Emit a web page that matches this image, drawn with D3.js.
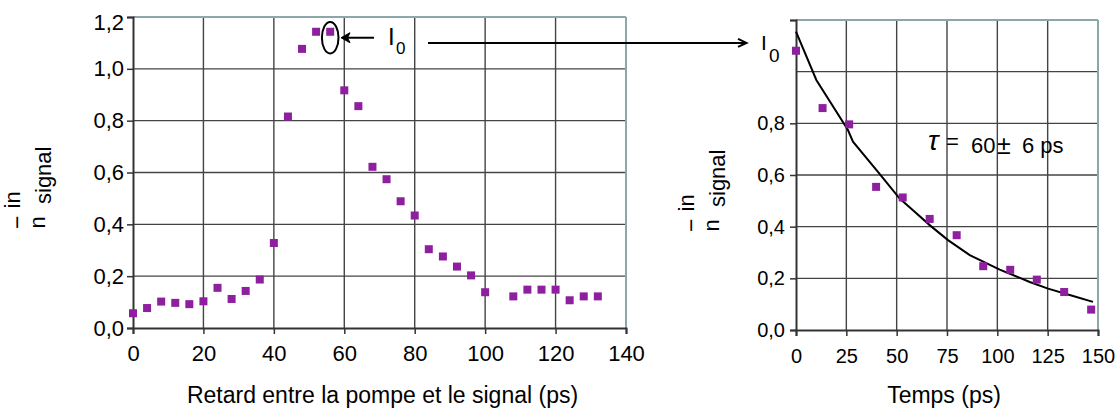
<!DOCTYPE html>
<html>
<head>
<meta charset="utf-8">
<script src="https://cdn.jsdelivr.net/npm/d3@7"></script>
<style>
  html, body { margin: 0; padding: 0; background: #fff; }
  svg { display: block; }
  text { font-family: "Liberation Sans", Arial, sans-serif; fill: #000; }
</style>
</head>
<body>
<svg id="chart" width="1115" height="409"></svg>
<script>
// Pump-probe scan: signal ratio versus pump/signal delay
const delayPs = [0, 4, 8, 12, 16, 20, 24, 28, 32, 36, 40, 44, 48, 52, 56, 60, 64,
  68, 72, 76, 80, 84, 88, 92, 96, 100, 108, 112, 116, 120, 124, 128, 132];
const scanRatio = [0.057, 0.077, 0.102, 0.097, 0.092, 0.103, 0.155, 0.112, 0.143,
  0.187, 0.328, 0.816, 1.077, 1.143, 1.143, 0.917, 0.856, 0.622, 0.574, 0.489,
  0.434, 0.304, 0.276, 0.237, 0.203, 0.138, 0.122, 0.148, 0.148, 0.148, 0.107,
  0.122, 0.122];

// Decay after the maximum I0
const decayTime = [0, 13.2, 26.4, 39.8, 53, 66.4, 79.8, 93, 106.4, 119.6, 133.2, 146.6];
const decayRatio = [1.081, 0.859, 0.796, 0.554, 0.513, 0.430, 0.367, 0.247, 0.233,
  0.195, 0.147, 0.079];

// Exponential fit, tau = 60 +- 6 ps
const fitTime = [0, 10.1, 25.8, 28.3, 40.7, 51.5, 58.1, 66.4, 75.5, 86.3, 101.2,
  116.1, 125.2, 139.3, 147.5];
const fitRatio = [1.155, 0.968, 0.774, 0.729, 0.612, 0.509, 0.464, 0.406, 0.348,
  0.290, 0.234, 0.186, 0.160, 0.128, 0.109];

// Axis ticks
const scanXTicks = [0, 20, 40, 60, 80, 100, 120, 140];
const decayXTicks = [0, 25, 50, 75, 100, 125, 150];
const ratioTicks = [0, 0.2, 0.4, 0.6, 0.8, 1.0, 1.2];
const decayLabelTicks = [0, 0.2, 0.4, 0.6, 0.8];

const svg = d3.select("#chart");
const frLocale = d3.formatLocale({ decimal: ",", thousands: " ", grouping: [3], currency: ["", " €"] });
const fmt1 = frLocale.format(".1f");

const GRID = "#444";
const FRAME = "#8ca6ac";
const MARK = "#8e1f9e";

function drawPanel(opts) {
  const { left, right, top, bottom, xDomain, xTicks, yTickLabels, fontSize, xPad, yPad } = opts;
  const x = d3.scaleLinear().domain(xDomain).range([left, right]);
  const y = d3.scaleLinear().domain([0, 1.2]).range([bottom, top]);
  const g = svg.append("g");

  // grid
  g.append("g").selectAll("line.v").data(xTicks.filter(t => t > xDomain[0] && t < xDomain[1]))
    .join("line").attr("x1", d => x(d)).attr("x2", d => x(d))
    .attr("y1", top).attr("y2", bottom).attr("stroke", GRID).attr("stroke-width", 1.4);
  g.append("g").selectAll("line.h").data(ratioTicks.filter(t => t > 0 && t < 1.2))
    .join("line").attr("x1", left).attr("x2", right)
    .attr("y1", d => y(d)).attr("y2", d => y(d)).attr("stroke", GRID).attr("stroke-width", 1.4);

  // frame top / right
  g.append("line").attr("x1", left).attr("x2", right).attr("y1", top).attr("y2", top)
    .attr("stroke", FRAME).attr("stroke-width", 2);
  g.append("line").attr("x1", right).attr("x2", right).attr("y1", top).attr("y2", bottom)
    .attr("stroke", FRAME).attr("stroke-width", 2);

  // axes
  const xAxis = d3.axisBottom(x).tickValues(xTicks).tickSize(6).tickPadding(xPad)
    .tickFormat(d3.format("d"));
  const gx = g.append("g").attr("transform", `translate(0,${bottom})`).call(xAxis);
  const yAxis = d3.axisLeft(y).tickValues(opts.yTicks).tickSize(6).tickPadding(yPad)
    .tickFormat(d => yTickLabels.includes(d) ? fmt1(d) : "");
  const gy = g.append("g").attr("transform", `translate(${left},0)`).call(yAxis);
  [gx, gy].forEach(a => {
    a.select(".domain").attr("stroke", "#333").attr("stroke-width", 2);
    a.selectAll(".tick line").attr("stroke", "#333").attr("stroke-width", 1.5);
    a.selectAll("text").attr("font-size", fontSize)
      .attr("font-family", "'Liberation Sans', Arial, sans-serif").attr("fill", "#000");
  });
  return { x, y, g, gy };
}

// ---- left panel: delay scan
const L = drawPanel({
  left: 133, right: 626, top: 17, bottom: 328, xDomain: [0, 140], xTicks: scanXTicks,
  yTicks: ratioTicks, yTickLabels: ratioTicks, fontSize: 22, xPad: 11, yPad: 3
});
L.gy.selectAll(".tick text").filter(d => d === 1.2).attr("dy", "0.55em");

L.g.append("g").selectAll("rect").data(delayPs.map((d, i) => [d, scanRatio[i]]))
  .join("rect").attr("x", d => L.x(d[0]) - 4).attr("y", d => L.y(d[1]) - 4)
  .attr("width", 8).attr("height", 8).attr("fill", MARK);

// ---- right panel: decay
const R = drawPanel({
  left: 796, right: 1098, top: 20, bottom: 330, xDomain: [0, 150], xTicks: decayXTicks,
  yTicks: [0, 0.2, 0.4, 0.6, 0.8, 1.2], yTickLabels: decayLabelTicks, fontSize: 20, xPad: 13, yPad: 5
});

R.g.append("path")
  .datum(fitTime.map((t, i) => [t, fitRatio[i]]))
  .attr("d", d3.line().x(d => R.x(d[0])).y(d => R.y(d[1])))
  .attr("fill", "none").attr("stroke", "#000").attr("stroke-width", 2);

R.g.append("g").selectAll("rect").data(decayTime.map((d, i) => [d, decayRatio[i]]))
  .join("rect").attr("x", d => R.x(d[0]) - 4).attr("y", d => R.y(d[1]) - 4)
  .attr("width", 8).attr("height", 8).attr("fill", MARK);

// ---- axis titles
svg.append("text").attr("x", L.x(70) + 3).attr("y", 403).attr("text-anchor", "middle")
  .attr("font-size", 23).text("Retard entre la pompe et le signal (ps)");
svg.append("text").attr("x", R.x(75) - 3).attr("y", 403).attr("text-anchor", "middle")
  .attr("font-size", 23).text("Temps (ps)");

// rotated ratio label n̄_in / n_signal
function ratioLabel(dx, dy) {
  const g = svg.append("g").attr("transform", `translate(${dx},${dy})`);
  const rot = (x, y, s, txt) => g.append("text")
    .attr("transform", `translate(${x},${y}) rotate(-90)`)
    .attr("font-size", s).text(txt);
  rot(25, 229, 23, "\u2212");
  rot(20, 208.5, 22, "in");
  rot(45, 228.5, 22, "n");
  rot(51, 204, 22, "signal");
}
ratioLabel(0, 0);
ratioLabel(674, 3);

// ---- I0 annotations
const yI0 = L.y(1.12);
L.g.append("ellipse").attr("cx", L.x(56)).attr("cy", yI0).attr("rx", 8.3).attr("ry", 15.8)
  .attr("fill", "none").attr("stroke", "#000").attr("stroke-width", 2);
L.g.append("line").attr("x1", 374).attr("x2", 344).attr("y1", yI0).attr("y2", yI0)
  .attr("stroke", "#000").attr("stroke-width", 2);
L.g.append("path").attr("d", `M341,${yI0} l9,-5 l-2.5,5 l2.5,5 Z`).attr("fill", "#000")
  .attr("stroke", "#000").attr("stroke-width", 1);

const i0L = svg.append("text").attr("x", 388).attr("y", 45).attr("font-size", 24);
i0L.append("tspan").text("I");
i0L.append("tspan").attr("x", 396).attr("y", 54).attr("font-size", 17).text("0");

const yLong = L.y(1.10);
svg.append("line").attr("x1", 428).attr("x2", 745).attr("y1", yLong).attr("y2", yLong)
  .attr("stroke", "#000").attr("stroke-width", 2);
svg.append("path").attr("d", `M738,${yLong - 4} L746.5,${yLong} L738,${yLong + 4}`)
  .attr("fill", "none").attr("stroke", "#000").attr("stroke-width", 2);

const i0R = svg.append("text").attr("x", 761).attr("y", 50).attr("font-size", 21);
i0R.append("tspan").text("I");
i0R.append("tspan").attr("x", 769).attr("y", 61.5).attr("font-size", 19).text("0");

// ---- tau annotation
svg.append("text").attr("x", 928).attr("y", 150).attr("font-size", 28)
  .attr("font-family", "'Liberation Serif', 'Times New Roman', serif")
  .attr("font-style", "italic").text("\u03C4");
svg.append("text").attr("x", 946).attr("y", 149).attr("font-size", 22).text("=");
svg.append("text").attr("x", 971).attr("y", 153).attr("font-size", 22).text("60");
svg.append("text").attr("x", 997).attr("y", 154).attr("font-size", 25).text("\u00B1");
svg.append("text").attr("x", 1022).attr("y", 153).attr("font-size", 22).text("6 ps");
</script>
</body>
</html>
